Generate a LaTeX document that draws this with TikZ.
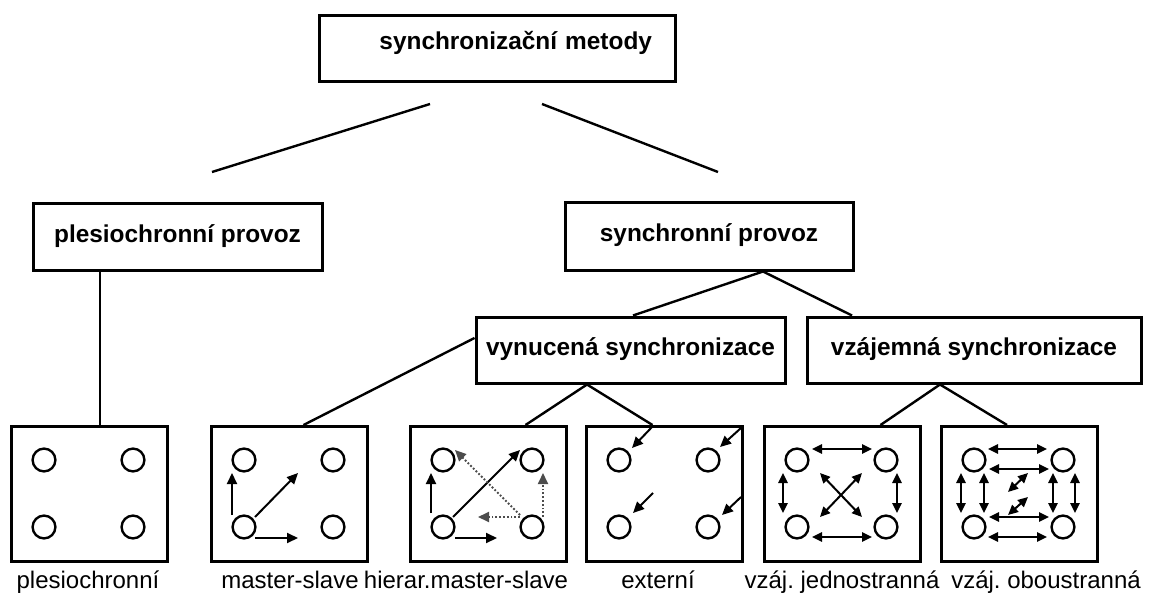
\documentclass[tikz,border=0pt]{standalone}
\usepackage{fontspec}
\setmainfont{Liberation Sans}
\usetikzlibrary{arrows.meta}
\frenchspacing

\tikzset{
  box/.style={draw,line width=1.5pt,inner sep=0pt,font=\bfseries\fontsize{12.2}{14}\selectfont,
    text height=8pt,text depth=2.5pt},
  icon/.style={draw,line width=1.5pt,minimum width=78pt,minimum height=67.5pt,inner sep=0pt,anchor=north west},
  iconlab/.style={font=\fontsize{12}{14}\selectfont,anchor=base,inner sep=0pt},
  link/.style={line width=1.2pt},
  dot/.style={line width=1.2pt},
  arr/.style={line width=1pt,-{Triangle[length=5.5pt,width=5pt]}},
  darr/.style={line width=1pt,{Triangle[length=5pt,width=4.6pt]}-{Triangle[length=5pt,width=4.6pt]}},
  dotarr/.style={line width=.9pt,densely dotted,black!70,-{Triangle[length=5.5pt,width=5pt]}}
}

\begin{document}
\begin{tikzpicture}[x=.5pt,y=-.5pt]
  \useasboundingbox (0,0) rectangle (1151,599);

  % upper boxes
  \node[box,text width=155pt,align=right,inner xsep=11.5pt,minimum height=33pt,
        text height=5.5pt,text depth=5pt] (root) at (497,49) {synchronizační metody};
  \node[box,minimum width=144.5pt,minimum height=33.5pt] (plesio) at (177.5,236.5) {plesiochronní provoz};
  \node[box,minimum width=144pt,minimum height=34pt] (sync) at (709,236) {synchronní provoz};
  \node[box,minimum width=154.5pt,minimum height=33pt] (forced) at (630.5,350) {vynucená synchronizace};
  \node[box,minimum width=167pt,minimum height=33pt] (mutual) at (974,350) {vzájemná synchronizace};

  % icon boxes and their captions
  \foreach \name/\bx in {pl/10,ms/210,hier/409,ext/585,jed/763,obo/940}
    \node[icon] (\name) at (\bx,425) {};
  \foreach \name/\x/\txt in {pl/88/plesiochronní,ms/290/master-slave,hier/466/hierar.master-slave,
      ext/658/externí,jed/842/vzáj. jednostranná,obo/1046/vzáj. oboustranná}
    \node[iconlab] (\name lab) at (\x,588) {\txt};

  % tree lines
  \coordinate (rootL) at (430,104);
  \coordinate (rootR) at (542,104);
  \coordinate (plesioT) at (212,172);
  \coordinate (syncT) at (718,172);
  \draw[link] (rootL) -- (plesioT);
  \draw[link] (rootR) -- (syncT);
  \draw[link] ([xshift=-38.75pt]plesio.south) -- ([xshift=-38.75pt]plesio.south |- pl.north);
  \draw[link] ([xshift=27pt]sync.south) -- ([xshift=1.25pt]forced.north);
  \draw[link] ([xshift=27pt]sync.south) -- ([xshift=-61pt]mutual.north);
  \draw[link] ([yshift=6pt]forced.west) -- ([xshift=7pt]ms.north);
  \draw[link] ([xshift=-21.75pt]forced.south) -- ([xshift=18.5pt]hier.north);
  \draw[link] ([xshift=-21.75pt]forced.south) -- ([xshift=-6pt]ext.north);
  \draw[link] ([xshift=-17pt]mutual.south) -- ([xshift=19pt]jed.north);
  \draw[link] ([xshift=-17pt]mutual.south) -- ([xshift=-6.25pt]obo.north);

  % clocks
  \foreach \bx in {10,210,409,585,763,940}
    \foreach \cx/\cy in {34/35,123/35,34/102,123/102}
      \draw[dot] (\bx+\cx,425+\cy) circle[radius=5.7pt];

  % master-slave
  \begin{scope}[shift={(210,425)}]
    \draw[arr] (22,90) -- (22,48);
    \draw[arr] (45,92) -- (88,48);
    \draw[arr] (45,113) -- (88,113);
  \end{scope}

  % hierar. master-slave
  \begin{scope}[shift={(409,425)}]
    \draw[arr] (22,88) -- (22,48);
    \draw[arr] (46,113) -- (88,113);
    \draw[arr] (44,92) -- (111,25);
    \draw[dotarr] (111,90) -- (46,25);
    \draw[dotarr] (111,92) -- (69,92);
    \draw[dotarr] (134,92) -- (134,48);
  \end{scope}

  % externi
  \begin{scope}[shift={(585,425)}]
    \draw[arr] (67,2) -- (47,23);
    \draw[arr] (156,3) -- (135,22);
    \draw[arr] (68,68) -- (48,88);
    \draw[arr] (156,72) -- (137,90);
  \end{scope}

  % vzaj. jednostranna
  \begin{scope}[shift={(763,425)}]
    \draw[darr] (49,24) -- (109,24);
    \draw[darr] (49,112) -- (109,112);
    \draw[darr] (20,48) -- (20,88);
    \draw[darr] (134,48) -- (134,88);
    \draw[darr] (57,48) -- (99,92);
    \draw[darr] (99,48) -- (57,92);
  \end{scope}

  % vzaj. oboustranna
  \begin{scope}[shift={(940,425)}]
    \draw[darr] (48,24) -- (107,24);
    \draw[darr] (48,112) -- (107,112);
    \draw[darr] (21,48) -- (21,88);
    \draw[darr] (135,48) -- (135,88);
    \draw[darr] (49,44) -- (109,44);
    \draw[darr] (49,92) -- (109,92);
    \draw[darr] (44,48) -- (44,88);
    \draw[darr] (113,48) -- (113,88);
    \draw[darr] (68,67) -- (88,48);
    \draw[darr] (68,90) -- (88,72);
  \end{scope}
\end{tikzpicture}
\end{document}
